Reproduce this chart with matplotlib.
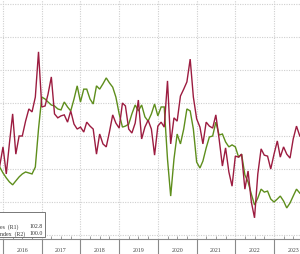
import matplotlib
matplotlib.use("Agg")
import matplotlib.pyplot as plt
import matplotlib.dates as mdates
from matplotlib.ticker import FixedLocator, FuncFormatter, NullFormatter
from matplotlib.patches import Rectangle
import pandas as pd

# ---- data (monthly, Dec 2015 .. Sep 2023) ----
start_month = "2015-12-01"
red_series = [100.9, 106.7, 98.5, 107.6, 116.7, 104.5, 110.0, 110.0, 114.5, 118.2,
              117.3, 121.8, 135.5, 118.8, 119.1, 122.7, 127.9, 116.7, 115.5, 116.1,
              116.4, 114.2, 117.6, 113.6, 112.1, 112.7, 111.2, 114.2, 113.0, 112.1,
              104.5, 110.6, 107.6, 106.7, 111.2, 116.4, 113.9, 112.4, 120.0, 119.1,
              112.1, 110.9, 113.9, 120.9, 109.1, 112.7, 114.8, 112.1, 104.2, 113.0,
              114.2, 112.7, 126.7, 107.6, 115.5, 114.5, 122.1, 124.2, 126.4, 133.3,
              121.8, 115.2, 112.7, 107.6, 114.2, 113.0, 112.4, 116.4, 109.1, 100.9,
              106.4, 99.1, 94.8, 103.9, 103.6, 104.5, 93.9, 99.4, 90.0, 85.2,
              98.5, 106.1, 104.2, 103.9, 100.0, 104.5, 108.5, 103.6, 106.7, 104.5,
              103.3, 109.1, 113.0, 110.0]
green_series = [100.6, 98.8, 97.3, 96.1, 95.2, 96.4, 97.6, 98.5, 99.1, 98.8,
                98.5, 100.6, 112.1, 121.8, 121.2, 120.3, 119.4, 119.1, 118.2, 117.9,
                120.3, 118.8, 117.6, 121.2, 125.2, 120.3, 124.2, 124.2, 121.2, 119.7,
                125.2, 124.2, 125.8, 127.6, 126.1, 124.8, 121.8, 116.7, 112.7, 113.0,
                113.6, 116.7, 119.4, 117.6, 119.4, 115.8, 114.5, 116.7, 119.7, 116.1,
                118.8, 118.8, 103.0, 91.8, 103.0, 110.6, 107.6, 112.1, 118.2, 117.6,
                112.1, 102.1, 100.3, 102.4, 106.4, 109.7, 110.0, 114.2, 110.3, 110.6,
                108.2, 106.7, 107.3, 106.7, 103.6, 104.5, 98.2, 96.1, 92.4, 89.1,
                91.2, 93.9, 93.0, 93.3, 90.9, 90.0, 90.9, 91.8, 90.3, 88.2,
                89.7, 91.8, 93.9, 92.7]
years = [2016, 2017, 2018, 2019, 2020, 2021, 2022, 2023]
legend_names = ["es  (R1)", "ndex  (R2)"]
legend_values = ["102.8", "100.0"]

dates = pd.date_range(start_month, periods=len(red_series), freq="MS")

RED = "#9c1c40"
GREEN = "#5e8e1c"
GRID = "#cfcfcf"
AXIS = "#8a8a8a"

fig = plt.figure(figsize=(3.0, 2.55), dpi=100)
ax = fig.add_axes([0.0, 15 / 255, 1.0, 240 / 255])

ax.plot(dates, green_series, color=GREEN, lw=1.0, solid_joinstyle="miter", zorder=3)
ax.plot(dates, red_series, color=RED, lw=1.0, solid_joinstyle="miter", zorder=3)

x0 = mdates.date2num(pd.Timestamp("2016-01-01"))
px_per_day = (274 - 3) / 7 / 365.25
ax.set_xlim(x0 - 3 / px_per_day, x0 + 297 / px_per_day)
ax.set_ylim(80 - 4 / 3.3, 80 + 236 / 3.3)

# grid
ax.set_yticks([80, 90, 100, 110, 120, 130, 140, 150])
ax.tick_params(axis="y", left=False, labelleft=False)
ax.grid(True, axis="both", color=GRID, linestyle=(0, (1, 1.2)), lw=0.8)

year_starts = [mdates.date2num(pd.Timestamp(f"{y}-01-01")) for y in years]
ax.xaxis.set_major_locator(FixedLocator(year_starts))
ax.xaxis.set_major_formatter(NullFormatter())
quarters = []
for y in years:
    for m in (4, 7, 10):
        quarters.append(mdates.date2num(pd.Timestamp(f"{y}-{m:02d}-01")))
ax.xaxis.set_minor_locator(FixedLocator(quarters))
ax.xaxis.set_minor_formatter(FuncFormatter(
    lambda v, p: str(mdates.num2date(v).year) if mdates.num2date(v).month == 7 else ""))
ax.tick_params(axis="x", which="major", direction="out", length=12, width=0.8,
               color=AXIS)
ax.tick_params(axis="x", which="minor", direction="in", length=2, width=0.6,
               color=AXIS, pad=6, labelsize=4.2, labelcolor="#444444")
for lab in ax.xaxis.get_minorticklabels():
    lab.set_family("Liberation Serif")

for s in ("top", "right", "left"):
    ax.spines[s].set_visible(False)
ax.spines["bottom"].set_color(AXIS)
ax.spines["bottom"].set_linewidth(0.8)

# legend box (cut off at left edge, as in the reference crop)
W, H = 300.0, 255.0
box = Rectangle((-20 / W, 1 - 238 / H), 65 / W, 25 / H, transform=fig.transFigure,
                facecolor="white", edgecolor="#777777", lw=0.7, zorder=5)
fig.patches.append(box)
for k, (nm, val) in enumerate(zip(legend_names, legend_values)):
    yy = 1 - (227 + 7 * k) / H
    fig.text(0.5 / W, yy, nm, ha="left", va="center", fontsize=4.2,
             family="Liberation Serif", color="#333333", zorder=6)
    fig.text(43 / W, yy, val, ha="right", va="center", fontsize=4.2,
             family="Liberation Serif", color="#333333", zorder=6)

fig.savefig("out.png", dpi=100)
